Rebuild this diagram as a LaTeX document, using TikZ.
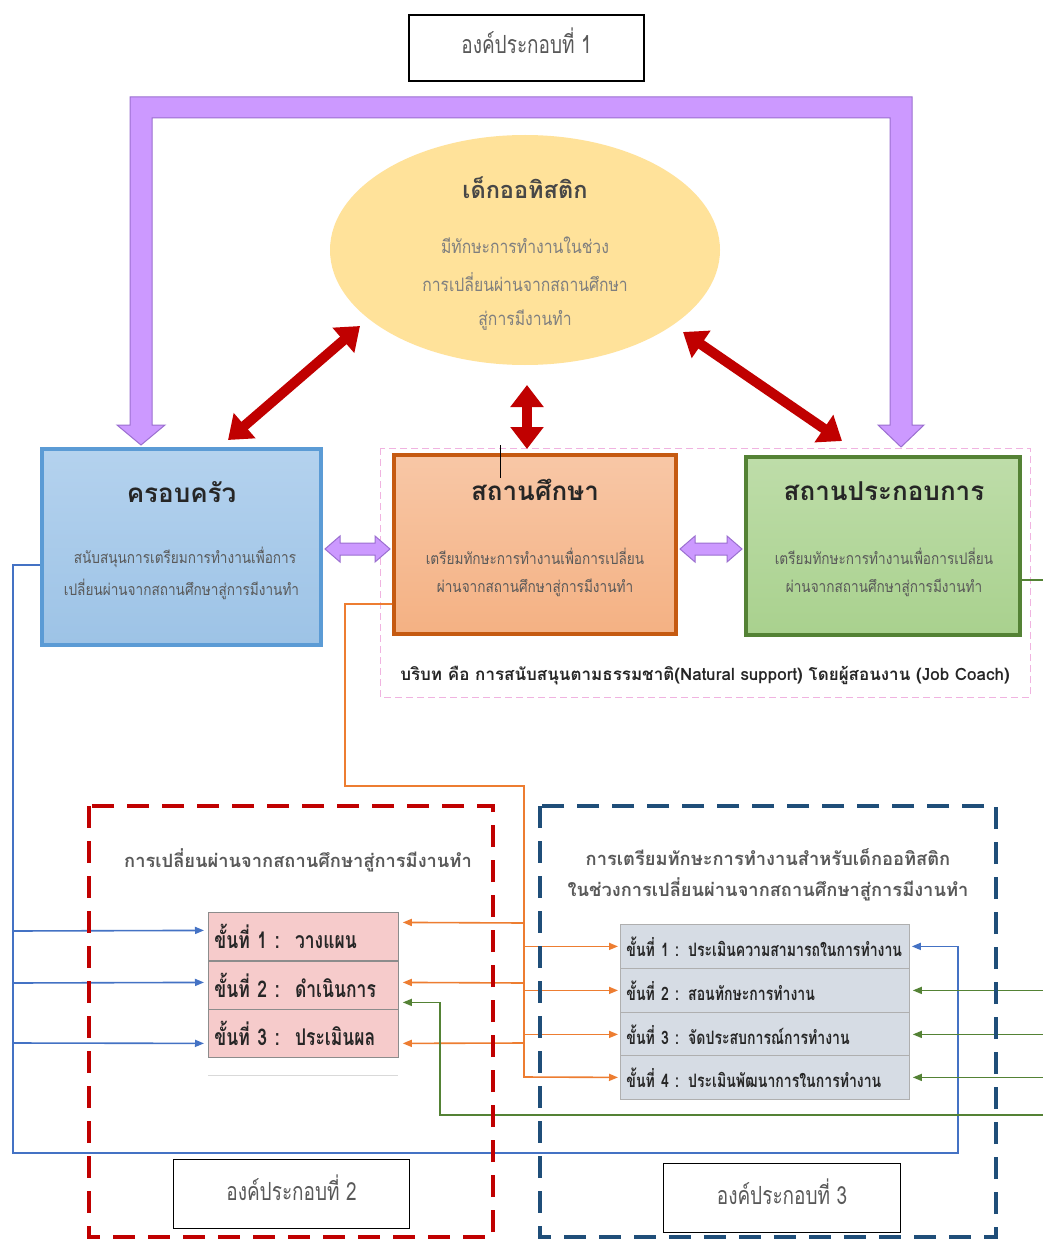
\documentclass[tikz,border=0pt]{standalone}
\usepackage{fontspec}
\setmainfont[Script=Thai]{Loma}
\newfontfamily\thc[Script=Thai,FakeStretch=0.85]{Loma}
\newfontfamily\thcc[Script=Thai,FakeStretch=0.76]{Loma}
\usetikzlibrary{arrows.meta,calc,shapes.geometric}

\definecolor{lav}{HTML}{CC99FF}
\definecolor{lavd}{HTML}{9B6FD0}
\definecolor{dred}{HTML}{C00000}
\definecolor{gold}{HTML}{FFE29A}
\definecolor{famf}{HTML}{9DC3E6}
\definecolor{famt}{HTML}{B4D2EE}
\definecolor{famb}{HTML}{5B9BD5}
\definecolor{schf}{HTML}{F4B183}
\definecolor{scht}{HTML}{F8C7A6}
\definecolor{schb}{HTML}{C55A11}
\definecolor{grnf}{HTML}{A9D18E}
\definecolor{grnt}{HTML}{BEDDA9}
\definecolor{grnb}{HTML}{548235}
\definecolor{lnb}{HTML}{4472C4}
\definecolor{lno}{HTML}{ED7D31}
\definecolor{lng}{HTML}{548235}
\definecolor{rowp}{HTML}{F6CBCB}
\definecolor{rowg}{HTML}{D6DCE4}
\definecolor{rowline}{HTML}{8C8C8C}
\definecolor{pinkd}{HTML}{F0B3E0}
\definecolor{boxred}{HTML}{C00000}
\definecolor{boxblue}{HTML}{1F4E79}
\definecolor{tdark}{HTML}{262626}
\definecolor{tgray}{HTML}{595959}
\definecolor{tlight}{HTML}{7F7F7F}

\tikzset{
  tipsmall/.tip={Triangle[length=9pt,width=7pt]},
  bl/.style={draw=lnb, line width=1.6pt},
  orl/.style={draw=lno, line width=1.6pt},
  grl/.style={draw=lng, line width=1.4pt},
  redarr/.style={draw=dred, line width=10pt,
    {Triangle[length=22pt,width=32pt]}-{Triangle[length=22pt,width=32pt]}},
  partbox/.style={draw=black, line width=1.5pt, fill=white, inner sep=0pt,
    font=\thcc\fontsize{25}{28}\selectfont, text=tgray},
  bigbox/.style={line width=4pt, inner sep=0pt},
  ttl/.style={font=\bfseries\fontsize{26}{30}\selectfont, text=tdark},
  bodytxt/.style={font=\thc\fontsize{16}{19}\selectfont, text=tgray},
  pinkrow/.style={draw=rowline, line width=0.8pt, fill=rowp, anchor=north west,
    minimum width=190pt, minimum height=48pt, inner xsep=6pt, text width=178pt,
    align=left, font=\thcc\bfseries\fontsize{23}{26}\selectfont, text=tdark},
  grayrow/.style={draw=rowline!70, line width=0.8pt, fill=rowg, anchor=north west,
    minimum width=289pt, minimum height=44pt, inner xsep=6pt, text width=277pt,
    align=left, font=\thcc\bfseries\fontsize{18.5}{22}\selectfont, text=tdark},
  frametitle/.style={font=\bfseries\fontsize{18.3}{21}\selectfont, text=tgray},
  dashred/.style={draw=boxred, line width=4pt, dash pattern=on 22pt off 13pt},
  dashblue/.style={draw=boxblue, line width=4pt, dash pattern=on 22pt off 13pt},
}

\newcommand\lavdouble[3]{%
  \filldraw[fill=lav, draw=lavd, line width=1pt]
    (#1,#3) -- ({#1+15},{#3-13}) -- ({#1+15},{#3-6}) -- ({#2-15},{#3-6})
    -- ({#2-15},{#3-13}) -- (#2,#3) -- ({#2-15},{#3+13}) -- ({#2-15},{#3+6})
    -- ({#1+15},{#3+6}) -- ({#1+15},{#3+13}) -- cycle;}
\newcommand\partlabel[1]{\raisebox{-6pt}[0pt][0pt]{#1}}

\begin{document}
\begin{tikzpicture}[x=1pt,y=-1pt]
\useasboundingbox[fill=white] (0,0) rectangle (1043,1241);

% component 1 label
\node[partbox, minimum width=235pt, minimum height=66pt] (c1) at (526.5,48) {\partlabel{องค์ประกอบที่ 1}};

% purple frame with two arrow legs
\filldraw[fill=lav, draw=lavd, line width=1pt]
  (141,445) -- (117,425) -- (130,425) -- (130,97) -- (912,97) -- (912,425)
  -- (924,425) -- (901,447) -- (878,425) -- (890,425) -- (890,118)
  -- (152,118) -- (152,425) -- (165,425) -- cycle;

% context frame
\draw[draw=pinkd, line width=1pt, dash pattern=on 7pt off 4pt] (380,448) rectangle (1030,697);
\node[font=\bfseries\fontsize{17}{20}\selectfont, text=tdark] (ctx) at (705,676)
  {บริบท คือ การสนับสนุนตามธรรมชาติ(Natural support) โดยผู้สอนงาน (Job Coach)};

% central ellipse
\node[ellipse, fill=gold, minimum width=390pt, minimum height=230pt] (kid) at (525,250) {};
\node[font=\bfseries\fontsize{23.5}{27}\selectfont, text=tdark!85] (kidt) at (525,188) {เด็กออทิสติก};
\node[bodytxt, font=\thc\fontsize{18.5}{22}\selectfont, text=tlight] (kid1) at (525,245) {มีทักษะการทำงานในช่วง};
\node[bodytxt, font=\thc\fontsize{18.5}{22}\selectfont, text=tlight] (kid2) at (525,282) {การเปลี่ยนผ่านจากสถานศึกษา};
\node[bodytxt, font=\thc\fontsize{18.5}{22}\selectfont, text=tlight] (kid3) at (525,320) {สู่การมีงานทำ};

% three partner boxes
\node[bigbox, draw=famb, top color=famt, bottom color=famf, minimum width=279pt, minimum height=196pt] (fam) at (181.5,547) {};
\node[bigbox, draw=schb, top color=scht, bottom color=schf, minimum width=282pt, minimum height=179pt] (sch) at (535,544.5) {};
\node[bigbox, draw=grnb, top color=grnt, bottom color=grnf, minimum width=274pt, minimum height=178pt] (grn) at (883,546) {};

\node[ttl] (famt) at (181.5,492) {ครอบครัว};
\node[bodytxt] (fam1) at (185,557) {สนับสนุนการเตรียมการทำงานเพื่อการ};
\node[bodytxt] (fam2) at (181.5,589) {เปลี่ยนผ่านจากสถานศึกษาสู่การมีงานทำ};
\node[ttl] (scht) at (535,490) {สถานศึกษา};
\node[bodytxt] (sch1) at (535,556) {เตรียมทักษะการทำงานเพื่อการเปลี่ยน};
\node[bodytxt] (sch2) at (535,588) {ผ่านจากสถานศึกษาสู่การมีงานทำ};
\node[ttl] (grnt) at (884,491) {สถานประกอบการ};
\node[bodytxt] (grn1) at (884,556) {เตรียมทักษะการทำงานเพื่อการเปลี่ยน};
\node[bodytxt] (grn2) at (884,588) {ผ่านจากสถานศึกษาสู่การมีงานทำ};

% thin mark across the school title
\coordinate (mk1) at (500,445);
\coordinate (mk2) at (500,478);
\draw[black, line width=0.8pt] (mk1) -- (mk2);

% red two-way arrows between the child and the partners
\coordinate (ra1) at (228,440); \coordinate (ra2) at (360,326);
\coordinate (rb1) at (527,449); \coordinate (rb2) at (527,385);
\coordinate (rc1) at (842,441); \coordinate (rc2) at (683,332);
\draw[redarr] (ra1) -- (ra2);
\draw[redarr] (rb1) -- (rb2);
\draw[redarr] (rc1) -- (rc2);

% purple two-way arrows between partners
\lavdouble{325}{390}{549}
\lavdouble{680}{742}{549}

% step lists
\node[pinkrow] (p1) at (208,912) {\mbox{ขั้นที่ 1 :\ \ วางแผน}};
\node[pinkrow] (p2) at (208,961) {\mbox{ขั้นที่ 2 :\ \ ดำเนินการ}};
\node[pinkrow] (p3) at (208,1009) {\mbox{ขั้นที่ 3 :\ \ ประเมินผล}};
\draw[draw=black!15, line width=1pt] (208,1075) -- (398,1075);

\node[grayrow] (g1) at (620,924) {\mbox{ขั้นที่ 1 : ประเมินความสามารถในการทำงาน}};
\node[grayrow] (g2) at (620,968) {\mbox{ขั้นที่ 2 : สอนทักษะการทำงาน}};
\node[grayrow] (g3) at (620,1012) {\mbox{ขั้นที่ 3 : จัดประสบการณ์การทำงาน}};
\node[grayrow] (g4) at (620,1055) {\mbox{ขั้นที่ 4 : ประเมินพัฒนาการในการทำงาน}};

% family connectors (blue)
\coordinate (bT) at (13,565);
\coordinate (bB) at (13,1153);
\coordinate (bR) at (958,1153);
\draw[bl, -tipsmall, shorten >=2pt] (fam.west |- bT) -- (bT) -- (bB) -- (bR) |- (g1.east);
\draw[bl, -tipsmall, shorten >=4pt] (bT |- 0,931) -- ([yshift=6pt]p1.west);
\draw[bl, -tipsmall, shorten >=4pt] (bT |- 0,983) -- ([yshift=3pt]p2.west);
\draw[bl, -tipsmall, shorten >=4pt] (bT |- 0,1043) -- ([yshift=-10pt]p3.west);

% school connectors (orange)
\coordinate (oT) at (345,604);
\coordinate (oB) at (345,786);
\coordinate (oC) at (524,786);
\coordinate (oE) at (524,1077);
\draw[orl, -tipsmall, shorten >=2pt] (sch.west |- oT) -- (oT) -- (oB) -- (oC) -- (oE) -- (g4.west);
\draw[orl, -tipsmall, shorten >=4pt] (oC |- 0,923) -- ([yshift=14pt]p1.east);
\draw[orl, -tipsmall, shorten >=4pt] (oC |- 0,983) -- ([yshift=3pt]p2.east);
\draw[orl, -tipsmall, shorten >=4pt] (oC |- 0,1043) -- ([yshift=-10pt]p3.east);
\draw[orl, -tipsmall, shorten >=2pt] (oC |- g1.west) -- (g1.west);
\draw[orl, -tipsmall, shorten >=2pt] (oC |- g2.west) -- (g2.west);
\draw[orl, -tipsmall, shorten >=2pt] (oC |- g3.west) -- (g3.west);

% workplace connectors (green)
\coordinate (gR) at (1043,580);
\coordinate (gEdge) at (1043,1115);
\coordinate (gB) at (440,1115);
\draw[grl] (grn.east |- gR) -- (gR);
\draw[grl, -tipsmall, shorten >=3pt] (gEdge |- g2.east) -- (g2.east);
\draw[grl, -tipsmall, shorten >=3pt] (gEdge |- g3.east) -- (g3.east);
\draw[grl, -tipsmall, shorten >=3pt] (gEdge |- g4.east) -- (g4.east);
\draw[grl, -tipsmall, shorten >=4pt] (gEdge) -- (gB) |- ([yshift=-17pt]p2.east);

% dashed component frames
\draw[dashred] (89,806) rectangle (493,1237);
\draw[dashblue] (540,806) rectangle (996,1237);
\node[frametitle] (rt) at (298,860) {การเปลี่ยนผ่านจากสถานศึกษาสู่การมีงานทำ};
\node[frametitle] (bt1) at (768,857) {การเตรียมทักษะการทำงานสำหรับเด็กออทิสติก};
\node[frametitle] (bt2) at (768,889) {ในช่วงการเปลี่ยนผ่านจากสถานศึกษาสู่การมีงานทำ};

% component 2 and 3 labels
\node[partbox, minimum width=236pt, minimum height=69pt] (c2) at (291.5,1194) {\partlabel{องค์ประกอบที่ 2}};
\node[partbox, minimum width=237pt, minimum height=69pt] (c3) at (782,1198) {\partlabel{องค์ประกอบที่ 3}};
\end{tikzpicture}
\end{document}
